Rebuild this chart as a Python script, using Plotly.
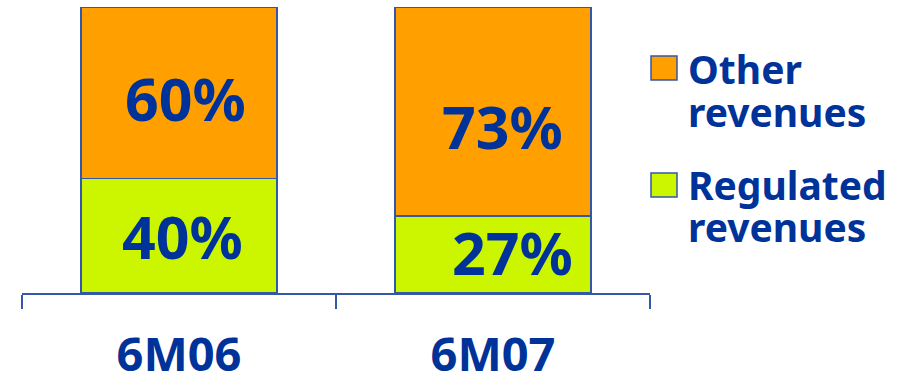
import plotly.graph_objects as go

# Revenue mix by half-year period (% of total)
periods = ["6M06", "6M07"]
regulated = [40, 27]
other = [60, 73]
series_names = ["Other revenues", "Regulated revenues"]

BLUE = "#003399"
EDGE = "#3358A8"
ORANGE = "#FF9F00"
LIME = "#CCF500"
FONT = "Noto Sans"

fig = go.Figure()
fig.add_trace(go.Bar(x=periods, y=regulated, name=series_names[1],
                     marker=dict(color=LIME, line=dict(color=EDGE, width=1.5)),
                     width=0.624, hoverinfo="skip"))
fig.add_trace(go.Bar(x=periods, y=other, name=series_names[0],
                     marker=dict(color=ORANGE, line=dict(color=EDGE, width=1.5)),
                     width=0.624, hoverinfo="skip"))

# Percentage labels centred in each segment, nudged to taste
reg_shift = [(3, 0), (19, 2)]
oth_shift = [(6, -5), (9, -15)]
annotations = []
for i, p in enumerate(periods):
    for base, val, (dx, dy) in ((0, regulated[i], reg_shift[i]),
                                (regulated[i], other[i], oth_shift[i])):
        annotations.append(dict(
            x=p, y=base + val / 2, xref="x", yref="y", text=f"{val}%",
            showarrow=False, xshift=dx, yshift=dy,
            font=dict(family=FONT, size=59, color=BLUE, weight="bold")))

# Legend drawn as swatches with two-line captions
def px_x(px):
    return (px - 22) / 628

def px_y(py):
    return (293 - py) / 286

legend_items = [(series_names[0], ORANGE, 56, (68, 111)),
                (series_names[1], LIME, 173, (184, 227))]
shapes = []
for name, color, top, line_ys in legend_items:
    shapes.append(dict(type="rect", xref="paper", yref="paper",
                       x0=px_x(651), x1=px_x(677), y0=px_y(top + 24), y1=px_y(top),
                       fillcolor=color, line=dict(color=EDGE, width=1.5)))
    for word, ly in zip(name.split(" ", 1), line_ys):
        annotations.append(dict(
            x=px_x(686), y=px_y(ly), xref="paper", yref="paper", text=word,
            showarrow=False, xanchor="left", yanchor="middle",
            font=dict(family=FONT, size=39, color=BLUE, weight="bold")))

fig.update_layout(
    barmode="stack",
    width=897, height=382,
    margin=dict(l=22, r=247, t=7, b=89),
    paper_bgcolor="white", plot_bgcolor="white",
    showlegend=False,
    annotations=annotations,
    shapes=shapes,
    xaxis=dict(type="category", range=[-0.5, 1.5], tickson="boundaries",
               ticks="outside", ticklen=14, tickwidth=1.5, tickcolor=EDGE,
               showline=True, linecolor=EDGE, linewidth=1.5, automargin=False,
               showgrid=False, ticklabelstandoff=20,
               tickfont=dict(family=FONT, size=47, color=BLUE, weight="bold")),
    yaxis=dict(range=[0, 100], visible=False, showgrid=False, zeroline=False),
)

fig.write_html("out.html")
